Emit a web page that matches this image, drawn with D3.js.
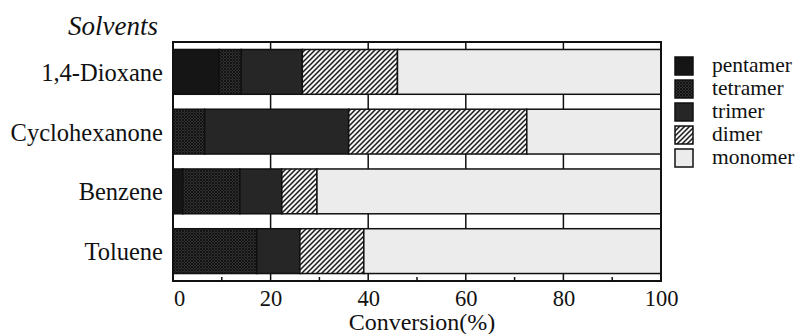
<!DOCTYPE html>
<html>
<head>
<meta charset="utf-8">
<script src="https://cdn.jsdelivr.net/npm/d3@7"></script>
<style>
  body { margin: 0; background: #fff; }
  text { font-family: "Liberation Serif", "DejaVu Serif", serif; fill: #111; }
</style>
</head>
<body>
<div id="chart"></div>
<script>
// data (conversion %, each row sums to 100)
var solvents = ["1,4-Dioxane", "Cyclohexanone", "Benzene", "Toluene"];
var pentamer = [9.5, 0, 2, 0];
var tetramer = [4.5, 6.5, 11.7, 17.2];
var trimer   = [12.5, 29.5, 8.6, 8.8];
var dimer    = [19.5, 36.5, 7.2, 13.1];
var monomer  = [54, 27.5, 70.5, 60.9];
var seriesNames = ["pentamer", "tetramer", "trimer", "dimer", "monomer"];
var xTicks = [0, 20, 40, 60, 80, 100];
var minorTicks = [10, 30, 50, 70, 90];

var width = 796, height = 334;
var plot = {left: 173, right: 661, top: 42, bottom: 281};

var svg = d3.select("#chart")
    .append("svg")
    .attr("width", width)
    .attr("height", height);

var defs = svg.append("defs");

// tetramer: dark with fine crosshatch
var pt = defs.append("pattern")
    .attr("id", "tetra")
    .attr("patternUnits", "userSpaceOnUse")
    .attr("width", 3).attr("height", 3);
pt.append("rect").attr("width", 3).attr("height", 3).attr("fill", "#303030");
pt.append("path").attr("d", "M0,3 L3,0 M0,0 L3,3").attr("stroke", "#141414").attr("stroke-width", 1);

// dimer: diagonal black hatching on white
var pd = defs.append("pattern")
    .attr("id", "dimer")
    .attr("patternUnits", "userSpaceOnUse")
    .attr("width", 5).attr("height", 5);
pd.append("rect").attr("width", 5).attr("height", 5).attr("fill", "#f4f4f4");
pd.append("path").attr("d", "M-1,1 L1,-1 M0,5 L5,0 M4,6 L6,4").attr("stroke", "#1a1a1a").attr("stroke-width", 1.5);

var fills = {
    pentamer: "#151515",
    tetramer: "url(#tetra)",
    trimer: "#262626",
    dimer: "url(#dimer)",
    monomer: "#ececec"
};

var rows = solvents.map(function(s, i) {
    return {solvent: s, pentamer: pentamer[i], tetramer: tetramer[i],
            trimer: trimer[i], dimer: dimer[i], monomer: monomer[i]};
});

var x = d3.scaleLinear().domain([0, 100]).range([plot.left, plot.right]);
var y = d3.scaleBand().domain(solvents).range([plot.top, plot.bottom])
    .paddingInner(0.25).paddingOuter(0.125);

// vertical grid lines
svg.append("g")
    .selectAll("line")
    .data([20, 40, 60, 80])
    .enter()
    .append("line")
    .attr("x1", function(d) { return x(d); })
    .attr("x2", function(d) { return x(d); })
    .attr("y1", plot.top).attr("y2", plot.bottom)
    .attr("stroke", "#111").attr("stroke-width", 1.5);

var stack = d3.stack().keys(seriesNames)(rows);

svg.append("g")
    .selectAll("g")
    .data(stack)
    .enter()
    .append("g")
    .attr("fill", function(d) { return fills[d.key]; })
    .selectAll("rect")
    .data(function(d) { return d; })
    .enter()
    .append("rect")
    .attr("x", function(d) { return x(d[0]); })
    .attr("y", function(d) { return y(d.data.solvent); })
    .attr("width", function(d) { return x(d[1]) - x(d[0]); })
    .attr("height", y.bandwidth())
    .attr("stroke", "#111")
    .attr("stroke-width", function(d) { return d[1] > d[0] ? 1.5 : 0; });

// frame
svg.append("rect")
    .attr("x", plot.left).attr("y", plot.top)
    .attr("width", plot.right - plot.left).attr("height", plot.bottom - plot.top)
    .attr("fill", "none")
    .attr("stroke", "#111").attr("stroke-width", 2);

// bottom axis
var xAxis = svg.append("g")
    .attr("transform", "translate(0," + plot.bottom + ")")
    .call(d3.axisBottom(x).tickValues(xTicks).tickSize(0).tickPadding(9));
xAxis.select(".domain").remove();
xAxis.selectAll("text")
    .attr("font-size", 22.5)
    .style("font-family", "Liberation Serif, serif")
    .attr("fill", "#111")
    .attr("dx", function(d) { return d === 0 ? 6 : 0; });

svg.append("g")
    .selectAll("line")
    .data(minorTicks)
    .enter()
    .append("line")
    .attr("x1", function(d) { return x(d); })
    .attr("x2", function(d) { return x(d); })
    .attr("y1", plot.bottom).attr("y2", plot.bottom - 4)
    .attr("stroke", "#111").attr("stroke-width", 1.5);

// category labels
svg.append("g")
    .selectAll("text")
    .data(solvents)
    .enter()
    .append("text")
    .attr("x", 163)
    .attr("y", function(d) { return y(d) + y.bandwidth() / 2 + 9; })
    .attr("text-anchor", "end")
    .attr("font-size", 24.5)
    .text(function(d) { return d; });

svg.append("text")
    .attr("x", 158).attr("y", 35)
    .attr("text-anchor", "end")
    .attr("font-size", 27)
    .attr("font-style", "italic")
    .text("Solvents");

svg.append("text")
    .attr("x", 422).attr("y", 330)
    .attr("text-anchor", "middle")
    .attr("font-size", 24)
    .text("Conversion(%)");

// legend
var legend = svg.append("g")
    .selectAll("g")
    .data(seriesNames)
    .enter()
    .append("g")
    .attr("transform", function(d, i) { return "translate(675," + (57 + i * 23) + ")"; });

legend.append("rect")
    .attr("width", 18).attr("height", 18)
    .attr("fill", function(d) { return fills[d]; })
    .attr("stroke", "#111").attr("stroke-width", 1.5);

legend.append("text")
    .attr("x", 37).attr("y", 15)
    .attr("font-size", 21.5)
    .text(function(d) { return d; });
</script>
</body>
</html>
